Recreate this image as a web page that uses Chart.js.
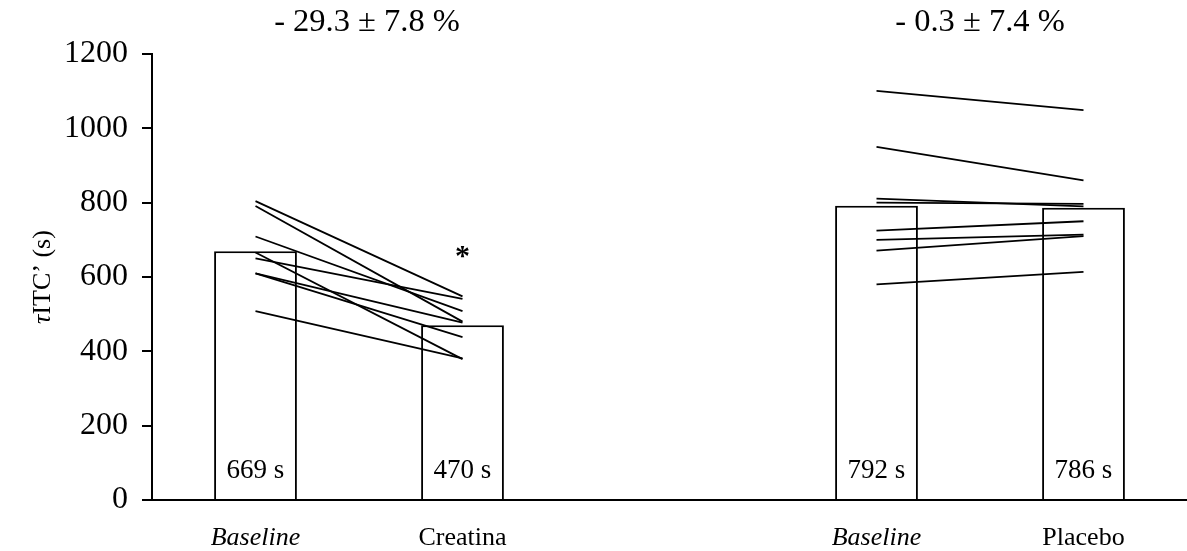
<!DOCTYPE html>
<html>
<head>
  <meta charset="UTF-8">
  <title>tauITC' Creatina vs Placebo</title>
  <script src="https://cdn.jsdelivr.net/npm/chart.js"></script>
  <style>
    body { margin: 0; background: #fff; }
    #wrap { width: 1187px; height: 551px; position: relative; }
  </style>
</head>
<body>
  <div id="wrap"><canvas id="tauChart"></canvas></div>

  <script>
    // categories on the x axis (middle slot left empty as a spacer)
    const categories = ['Baseline', 'Creatina', '', 'Baseline', 'Placebo'];
    const meanValues = [669, 470, null, 792, 786];

    // individual subjects (s)
    const creatinaBaseline = [804, 791, 709, 666, 650, 610, 610, 508];
    const creatinaPost     = [548, 480, 508, 379, 541, 477, 438, 381];
    const placeboBaseline  = [1101, 950, 811, 800, 725, 700, 671, 580];
    const placeboPost      = [1049, 860, 790, 797, 750, 714, 710, 614];

    const groupChange = ['- 29.3 ± 7.8 %', '- 0.3 ± 7.4 %'];
    const yMin = 0, yMax = 1200, yStep = 200;

    const serif = "'Liberation Serif', 'Times New Roman', serif";

    const datasets = [{
      type: 'bar',
      data: meanValues,
      backgroundColor: '#fff',
      borderColor: '#000',
      borderWidth: 2,
      barPercentage: 0.4,
      categoryPercentage: 1,
      order: 2
    }];

    creatinaBaseline.forEach((b, i) => {
      datasets.push({
        type: 'line',
        data: [b, creatinaPost[i], null, null, null],
        borderColor: '#000', borderWidth: 1.8,
        pointRadius: 0, spanGaps: false, order: 1
      });
    });
    placeboBaseline.forEach((b, i) => {
      datasets.push({
        type: 'line',
        data: [null, null, null, b, placeboPost[i]],
        borderColor: '#000', borderWidth: 1.8,
        pointRadius: 0, spanGaps: false, order: 1
      });
    });

    // extra text: bar means, % change per group, asterisk, y title
    const annotations = {
      id: 'annotations',
      afterDraw(chart) {
        const ctx = chart.ctx;
        const x = chart.scales.x, y = chart.scales.y;
        ctx.save();
        ctx.fillStyle = '#000';
        ctx.textAlign = 'center';
        ctx.textBaseline = 'middle';

        ctx.font = '27px ' + serif;
        meanValues.forEach((v, i) => {
          if (v == null) return;
          ctx.fillText(v + ' s', x.getPixelForValue(i), y.bottom - 29);
        });

        ctx.font = '32.5px ' + serif;
        const cL = (x.getPixelForValue(0) + x.getPixelForValue(1)) / 2 + 8;
        const cR = (x.getPixelForValue(3) + x.getPixelForValue(4)) / 2;
        ctx.fillText(groupChange[0], cL, 22);
        ctx.fillText(groupChange[1], cR, 22);

        ctx.font = 'bold 30px ' + serif;
        ctx.fillText('*', x.getPixelForValue(1), y.getPixelForValue(Math.max(...creatinaPost)) - 39);

        // y axis title: italic tau + normal text
        const tauFont = 'italic 26px ' + serif, restFont = '26px ' + serif;
        ctx.font = tauFont; const w1 = ctx.measureText('τ').width;
        ctx.font = restFont; const w2 = ctx.measureText('ITC’ (s)').width;
        ctx.translate(43, (y.top + y.bottom) / 2);
        ctx.rotate(-Math.PI / 2);
        ctx.textAlign = 'left';
        ctx.font = tauFont;
        ctx.fillText('τ', -(w1 + w2) / 2, 0);
        ctx.font = restFont;
        ctx.fillText('ITC’ (s)', -(w1 + w2) / 2 + w1, 0);
        ctx.restore();
      }
    };

    new Chart(document.getElementById('tauChart'), {
      data: { labels: categories, datasets: datasets },
      options: {
        responsive: true,
        maintainAspectRatio: false,
        animation: false,
        layout: { padding: { left: 50, top: 54, right: 0, bottom: 0 } },
        plugins: { legend: { display: false }, tooltip: { enabled: false } },
        scales: {
          x: {
            offset: true,
            grid: { display: true, drawOnChartArea: false, drawTicks: true, tickLength: 25, color: 'rgba(0,0,0,0)' },
            border: { display: true, color: '#000', width: 2 },
            ticks: {
              color: '#000',
              padding: 0,
              font: (c) => ({
                family: serif, size: 26, lineHeight: 1,
                style: categories[c.index] === 'Baseline' ? 'italic' : 'normal'
              })
            }
          },
          y: {
            min: yMin, max: yMax,
            grid: { drawOnChartArea: false, drawTicks: true, tickLength: 10, color: '#000', lineWidth: 2 },
            border: { display: true, color: '#000', width: 2 },
            ticks: {
              stepSize: yStep, color: '#000', padding: 14,
              font: { family: serif, size: 32 },
              callback: (v) => String(v)
            }
          }
        }
      },
      plugins: [annotations]
    });
  </script>
</body>
</html>
